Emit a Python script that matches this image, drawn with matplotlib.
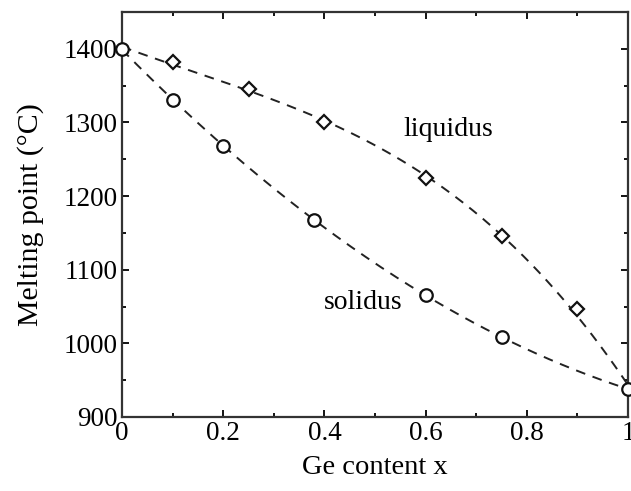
import numpy as np
import matplotlib
matplotlib.use("Agg")
import matplotlib.pyplot as plt
from matplotlib.ticker import MultipleLocator

# Data
liq_x = [0.0, 0.1, 0.25, 0.4, 0.6, 0.75, 0.9, 1.0]
liq_y = [1400, 1382, 1346, 1300, 1224, 1146, 1046, 938]
sol_x = [0.0, 0.1, 0.2, 0.38, 0.6, 0.75, 1.0]
sol_y = [1400, 1330, 1268, 1168, 1066, 1008, 938]

xticks = [0, 0.2, 0.4, 0.6, 0.8, 1]
xticklabels = ["0", "0.2", "0.4", "0.6", "0.8", "1"]
yticks = [900, 1000, 1100, 1200, 1300, 1400]

plt.rcParams['font.family'] = ['Liberation Serif', 'DejaVu Serif']

fig = plt.figure(figsize=(6.31, 4.91), dpi=100)
ax = fig.add_axes([122/631, 1 - 417/491, (628-122)/631, (417-12)/491])

xs = np.linspace(0, 1, 200)
pl = np.polyfit(liq_x, liq_y, 3)
ps = np.polyfit(sol_x, sol_y, 2)
ax.plot(xs, np.polyval(pl, xs), ls=(0, (5, 4)), color='#222', lw=1.4)
ax.plot(xs, np.polyval(ps, xs), ls=(0, (5, 4)), color='#222', lw=1.4)

ax.plot(liq_x[1:-1], liq_y[1:-1], 'D', ms=7, mfc='white', mec='#111', mew=1.6, clip_on=False)
ax.plot(sol_x, sol_y, 'o', ms=9, mfc='white', mec='#111', mew=1.6, clip_on=False, zorder=5)

ax.set_xlim(0, 1)
ax.set_ylim(900, 1450)
ax.set_xticks(xticks)
ax.set_xticklabels(xticklabels)
ax.set_yticks(yticks)
ax.xaxis.set_minor_locator(MultipleLocator(0.1))
ax.yaxis.set_minor_locator(MultipleLocator(50))
ax.tick_params(which='both', direction='in', top=True, right=True, labelsize=19.5, pad=3)
ax.tick_params(which='major', length=5, width=1.3)
ax.tick_params(which='minor', length=3, width=1.3)
for s in ax.spines.values():
    s.set_linewidth(1.6)
    s.set_color('#333')

ax.set_xlabel("Ge content x", fontsize=20.5, labelpad=6)
ax.set_ylabel("Melting point (°C)", fontsize=21.5, labelpad=14)

ax.text(0.644, 1290, "liquidus", fontsize=20, ha='center', va='center')
ax.text(0.477, 1055, "solidus", fontsize=20, ha='center', va='center')

fig.savefig("out.png", dpi=100)
